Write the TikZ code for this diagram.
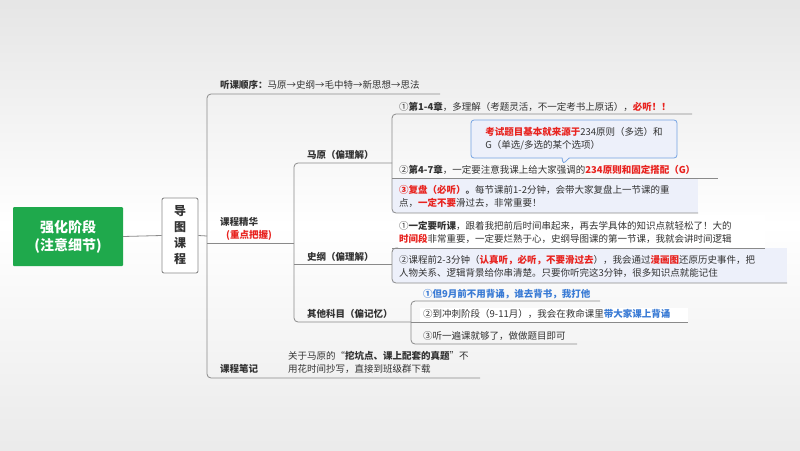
\documentclass[tikz,border=0pt]{standalone}
\usepackage{fontspec}
\setmainfont{Noto Sans CJK SC}
\newfontfamily\cjkb{Noto Sans CJK SC Bold}
\usetikzlibrary{shapes.callouts}
\definecolor{gr}{HTML}{1FA94C}
\definecolor{rd}{HTML}{E8231F}
\definecolor{bl}{HTML}{3A7BD5}
\definecolor{ln}{HTML}{8A8A8A}
\definecolor{lb}{HTML}{EDF0FA}
\definecolor{tx}{HTML}{333333}
\newcommand{\B}[1]{{\bfseries #1}}
\newcommand{\R}[1]{{\bfseries\color{rd}#1}}
\newcommand{\BL}[1]{{\bfseries\color{bl}#1}}
\begin{document}
\begin{tikzpicture}[x=1pt,y=-1pt,
  txt/.style={anchor=west,inner sep=1pt,font=\fontsize{9.5}{13}\selectfont,text=tx,align=left},
  br/.style={draw=ln,line width=0.8pt,rounded corners=4pt},
  ul/.style={draw=ln,line width=0.8pt}]
\shade[top color=black!10,bottom color=black!8,middle color=white] (0,0) rectangle (800,450);
\useasboundingbox (0,0) rectangle (800,450);
% root
\node[fill=gr,rounded corners=1pt,minimum width=110,minimum height=59,text=white,align=center,
  font=\fontsize{14}{18}\selectfont\bfseries] (root) at (68,236.5) {强化阶段\\(注意细节)};
\node[draw=ln,fill=white,line width=0.9pt,rounded corners=2pt,minimum width=36,minimum height=75,align=center,
  font=\fontsize{12}{16}\selectfont\bfseries,text=tx] (dt) at (180,235.5) {导\\图\\课\\程};
\draw[ul] (root.east) -- (dt.west);
\coordinate (b1) at (207,236);
\draw[ul] (dt.east) -- (b1);
% level 1
\node[txt] (tk) at (219,85) {\B{听课顺序：}马原→史纲→毛中特→新思想→思法};
\node[txt] (jh) at (219,229) {\B{课程精华}\\\hspace{6pt}\R{(重点把握)}};
\node[txt] (bj) at (219,369) {\B{课程笔记}};
\node[txt] (bjt) at (287,362) {关于马原的“\B{挖坑点、课上配套的真题}”不\\用花时间抄写，直接到班级群下载};
\draw[br] (440,94) -- (207,94) -- (207,378) -- (480,378);
\draw[ul] (207,243) -- (294,243);
% level 2
\node[txt] (my) at (306,155) {\B{马原（偏理解）}};
\node[txt] (sg) at (306,257) {\B{史纲（偏理解）}};
\node[txt] (qt) at (306,314) {\B{其他科目（偏记忆）}};
\draw[br] (392,163) -- (294,163) -- (294,322) -- (411,322);
\draw[ul] (294,264) -- (392,264);
% 马原 items
\fill[lb] (392,178) rectangle (698,213);
\node[txt] (m1) at (398,107) {①\B{第1-4章}，多理解（考题灵活，不一定考书上原话），\R{必听！！}};
\node[txt] (m2) at (398,170) {②\B{第4-7章}，一定要注意我课上给大家强调的\R{234原则和固定搭配（G）}};
\node[txt] (m3) at (398,196) {\R{③复盘（必听）}\B{。}每节课前1-2分钟，会带大家复盘上一节课的重\\点，\R{一定不要}滑过去，非常重要！};
\draw[br] (692,114) -- (392,114) -- (392,213) -- (698,213);
\draw[ul] (392,178) -- (718,178);
\node[rectangle callout,draw=bl!70,fill=lb,rounded corners=3pt,line width=0.8pt,minimum width=206,minimum height=38,
  callout absolute pointer={(563,164)},txt,anchor=center,align=left] (co) at (574,139)
  {\R{考试题目基本就来源于}234原则（多选）和\\G（单选/多选的某个选项）};
% 史纲 items
\fill[white] (398,215) rectangle (765,248);
\fill[lb] (392,248) rectangle (787,283);
\node[txt] (s1) at (398,232) {①\B{一定要听课}，跟着我把前后时间串起来，再去学具体的知识点就轻松了！大的\\\R{时间段}非常重要，一定要烂熟于心，史纲导图课的第一节课，我就会讲时间逻辑};
\node[txt] (s2) at (398,266) {②课程前2-3分钟（\R{认真听，必听，不要滑过去}），我会通过\R{漫画图}还原历史事件，把\\人物关系、逻辑背景给你串清楚。只要你听完这3分钟，很多知识点就能记住};
\draw[ul] (765,248) -- (392,248);
\draw[br] (398,248) -- (392,248) -- (392,283) -- (787,283);
% 其他 items
\fill[white] (420,308) rectangle (688,322);
\node[txt] (q1) at (422,294) {\BL{①但9月前不用背诵，谁去背书，我打他}};
\node[txt] (q2) at (422,314) {②到冲刺阶段（9-11月），我会在救命课里\BL{带大家课上背诵}};
\node[txt] (q3) at (422,336) {③听一遍课就够了，做做题目即可};
\draw[br] (600,301) -- (411,301) -- (411,344) -- (577,344);
\draw[ul] (411,322) -- (688,322);
\end{tikzpicture}
\end{document}
